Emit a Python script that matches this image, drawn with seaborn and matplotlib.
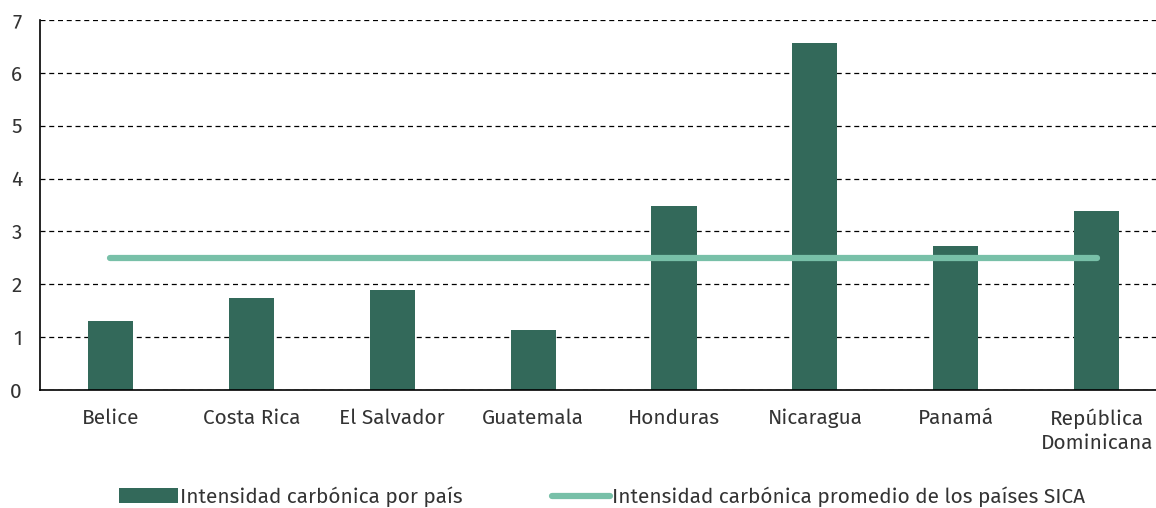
import numpy as np
import seaborn as sns
import matplotlib.pyplot as plt
from matplotlib.patches import Patch
from matplotlib.lines import Line2D

# Data
countries = ["Belice", "Costa Rica", "El Salvador", "Guatemala", "Honduras",
             "Nicaragua", "Panamá", "República\nDominicana"]
intensity = [1.30, 1.74, 1.90, 1.13, 3.49, 6.56, 2.72, 3.39]
sica_avg = [2.50] * len(countries)

bar_color = "#33695A"
line_color = "#78C0A8"
text_color = "#333333"

sns.set_style("white")
plt.rcParams['font.family'] = ['Fira Sans', 'Noto Sans', 'DejaVu Sans']
plt.rcParams['text.color'] = text_color

fig = plt.figure(figsize=(11.56, 5.08), dpi=100)
ax = fig.add_axes([0.0346, 0.2323, 0.975, 0.7283])

sns.barplot(x=countries, y=intensity, color=bar_color, width=0.32,
            saturation=1, edgecolor="none", ax=ax, zorder=2)
ax.plot(np.arange(len(countries)), sica_avg, color=line_color, lw=4.5,
        solid_capstyle="round", zorder=3)

ax.set_xlim(-0.5, len(countries) - 0.5)
ax.set_ylim(0, 7)
ax.set_yticks(range(0, 8))
ax.yaxis.grid(True, linestyle=(0, (4, 3)), color="black", lw=0.9, zorder=0)
ax.set_axisbelow(True)

# category boundaries as ticks, labels centred on the bars
ax.set_xticks(np.arange(-0.5, len(countries) - 0.5, 1.0))
ax.set_xticklabels([])
ax.set_xticks(np.arange(len(countries)), minor=True)
ax.set_xticklabels(countries, minor=True, linespacing=1.3)
ax.tick_params(axis="x", which="major", length=7, width=1, color="black", direction="out")
ax.tick_params(axis="x", which="minor", length=0, pad=13, labelsize=15, labelcolor=text_color)
ax.tick_params(axis="y", length=6, width=1, color="black", direction="out",
               labelsize=15, labelcolor=text_color, pad=7)
ax.set_xlabel("")
ax.set_ylabel("")

for side in ["top", "right"]:
    ax.spines[side].set_visible(False)
for side in ["left", "bottom"]:
    ax.spines[side].set_color("black")
    ax.spines[side].set_linewidth(1.2)

handles = [Patch(facecolor=bar_color, edgecolor="none"),
           Line2D([0], [0], color=line_color, lw=4.5, solid_capstyle="round")]
labels = ["Intensidad carbónica por país",
          "Intensidad carbónica promedio de los países SICA"]
fig.legend(handles, labels, loc="center", bbox_to_anchor=(0.521, 0.022), ncol=2,
           frameon=False, fontsize=15, handlelength=2.8, handleheight=0.7,
           handletextpad=0.1, columnspacing=4.3)

fig.savefig("out.png", dpi=100)
